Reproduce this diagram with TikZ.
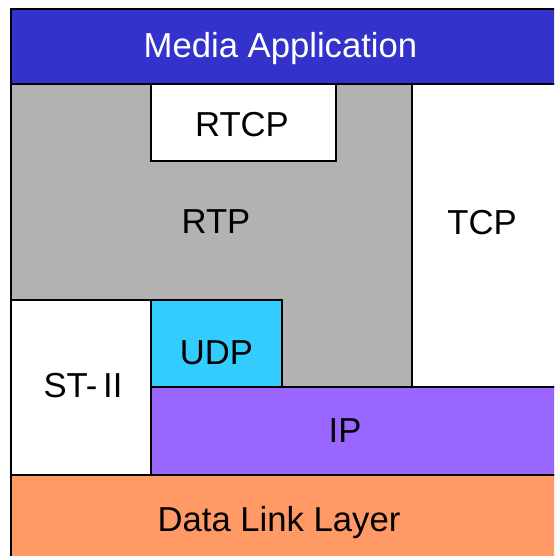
\documentclass[tikz,border=0pt]{standalone}
\usepackage{fontspec}
\setmainfont{Liberation Sans}
\definecolor{appblue}{RGB}{51,51,204}
\definecolor{rtpgray}{RGB}{178,178,178}
\definecolor{udpcyan}{RGB}{51,204,255}
\definecolor{ippurple}{RGB}{153,102,255}
\definecolor{linkorange}{RGB}{255,153,102}
\tikzset{
	layer/.style={draw=black, line width=1.1pt},
	lbl/.style={font=\fontsize{26}{31}\selectfont}
}

\begin{document}
\begin{tikzpicture}[x=0.75pt, y=-0.75pt]
		%%%%% START %%%%%
		\useasboundingbox (0, 0) rectangle (554, 556);
		\clip (0, 0) rectangle (554, 556);
		\fill[white] (0, 0) rectangle (554, 556);
		
		\draw[layer, fill=appblue] (11, 9) rectangle (560, 84);
		\node[lbl, text=white] (app) at (280.5, 49) {Media Application};
		
		\draw[layer, fill=rtpgray] (11, 84) rectangle (412, 387);
		\node[lbl] (rtp) at (216, 222) {RTP};
		
		\draw[layer, fill=white] (151, 84) rectangle (336, 161);
		\node[lbl] (rtcp) at (242, 125) {RTCP};
		
		\draw[layer, fill=white] (412, 84) rectangle (560, 387);
		\node[lbl] (tcp) at (482, 223) {TCP};
		
		\draw[layer, fill=white] (11, 300) rectangle (151, 475);
		\node[lbl] (st) at (83, 386) {ST-\,II};
		
		\draw[layer, fill=udpcyan] (151, 300) rectangle (282, 387);
		\node[lbl] (udp) at (216.5, 353) {UDP};
		
		\draw[layer, fill=ippurple] (151, 387) rectangle (560, 475);
		\node[lbl] (ip) at (345, 431) {IP};
		
		\draw[layer, fill=linkorange] (11, 475) rectangle (560, 560);
		\node[lbl] (link) at (279, 523) {Data Link Layer};
		%%%%% END %%%%%
\end{tikzpicture}
\end{document}
